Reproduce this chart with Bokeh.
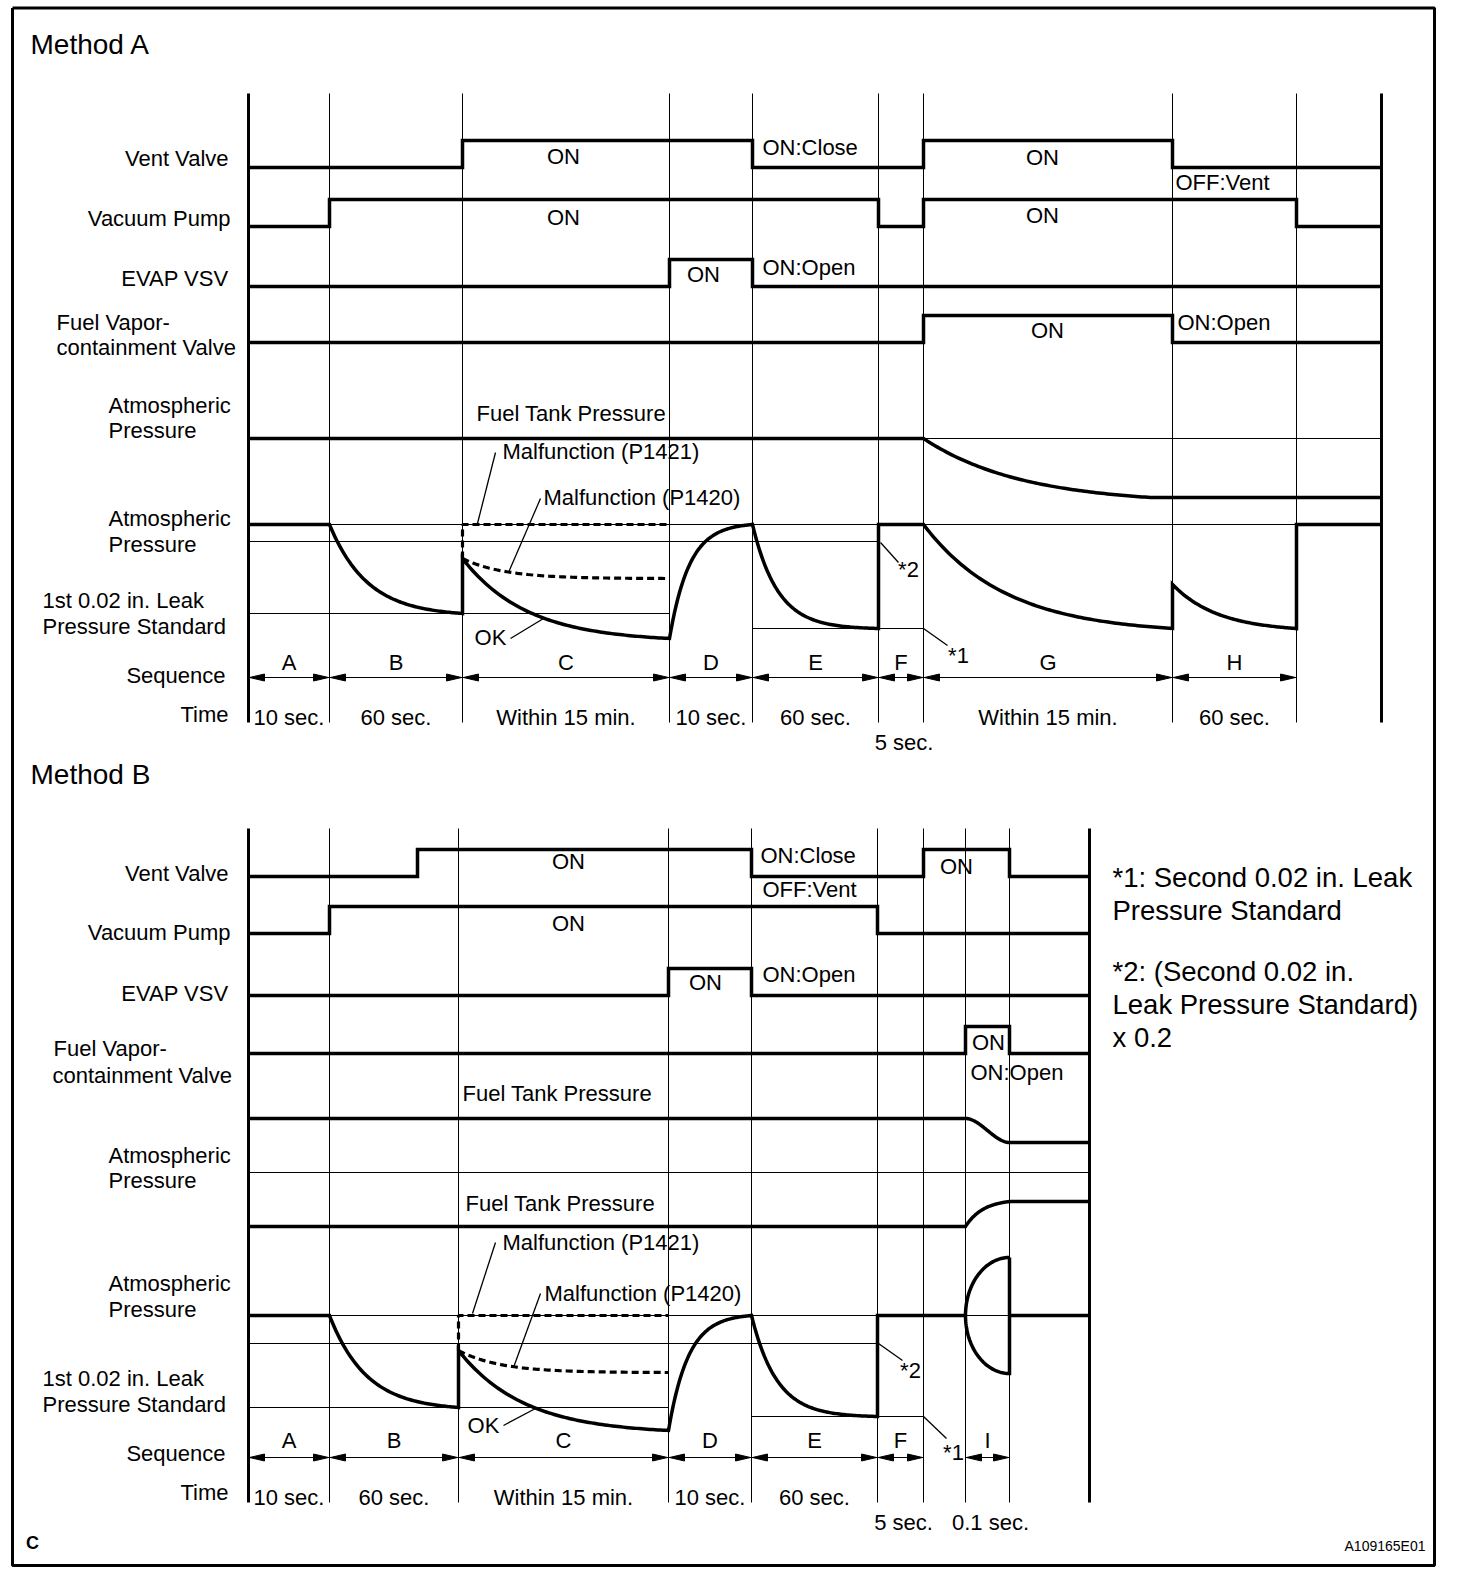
import numpy as np
from bokeh.plotting import figure
from bokeh.models import Range1d
from bokeh.embed import file_html
from bokeh.resources import INLINE
from bokeh.core.properties import value

FONT = "Liberation Sans"

# ======================= DATA =======================
# --- Method A: phase boundaries (diagram time axis) ---
A_EDGES = [248, 329, 462, 669, 752, 878, 923, 1172, 1296]
A_END = 1381
A_SEQ = ["A", "B", "C", "D", "E", "F", "G", "H"]
A_TIME = ["10 sec.", "60 sec.", "Within 15 min.", "10 sec.", "60 sec.", "5 sec.", "Within 15 min.", "60 sec."]
A_TIME_LOW = [0, 0, 0, 0, 0, 1, 0, 0]

# ON/OFF switching instants (all signals start OFF)
A_VENT = [462, 752, 923, 1172]
A_PUMP = [329, 878, 923, 1296]
A_EVAP = [669, 752]
A_FVV = [923, 1172]

# pressure traces: (time, level, curve-shape)
A_PRESS = [(248, 524, 0), (329, 524, 0), (462, 613, 3.5), (462, 558, 0), (669, 638, 3.2),
           (752, 524, 4.2), (878, 628, 5), (878, 524, 0), (923, 524, 0), (1172, 628, 3),
           (1172, 584, 0), (1296, 628, 2.7), (1296, 524, 0), (1381, 524, 0)]
A_P1421 = [(462, 558, 0), (462, 524, 0), (669, 524, 0)]
A_P1420 = [(462, 558, 0), (669, 578, 5)]
A_TANK = [(248, 438, 0), (923, 438, 0), (1150, 497, 2.3), (1381, 497, 0)]

# --- Method B ---
B_EDGES = [248, 329, 458, 668, 751, 877, 923, 965, 1009]
B_END = 1089
B_SEQ = ["A", "B", "C", "D", "E", "F", None, "I"]
B_TIME = ["10 sec.", "60 sec.", "Within 15 min.", "10 sec.", "60 sec.", "5 sec.", None, "0.1 sec."]
B_TIME_LOW = [0, 0, 0, 0, 0, 1, 0, 1]

B_VENT = [417, 751, 923, 1009]
B_PUMP = [329, 877]
B_EVAP = [668, 751]
B_FVV = [965, 1009]

B_PRESS = [(248, 1315, 0), (329, 1315, 0), (458, 1407, 3.5), (458, 1350, 0), (668, 1430, 3.2),
           (751, 1315, 4.2), (877, 1416, 5), (877, 1315, 0), (965, 1315, 0)]
B_PRESS_TAIL = [(1009, 1315, 0), (1089, 1315, 0)]
B_BULGE = (1009, 1315, 44, 58)   # right edge x, centre level, half-width, half-height
B_P1421 = [(458, 1350, 0), (458, 1315, 0), (668, 1315, 0)]
B_P1420 = [(458, 1350, 0), (668, 1372, 5)]
B_TANK1 = [(248, 1118, 0), (965, 1118, 0), (1009, 1142, "s"), (1089, 1142, 0)]
B_TANK2 = [(248, 1226, 0), (965, 1226, 0), (1009, 1201, 2.5), (1089, 1201, 0)]

NOTES = ["*1: Second 0.02 in. Leak", "Pressure Standard", "",
         "*2: (Second 0.02 in.", "Leak Pressure Standard)", "x 0.2"]

# ======================= LAYOUT =======================
A_TOP, A_BOT = 93, 722
B_TOP, B_BOT = 828, 1502
SIG_H = 27
A_ROWS = [167, 226, 286, 342]
B_ROWS = [876, 933, 995, 1053]
A_HLINES = [(438, 248, 1381), (524, 248, 1381), (541, 248, 878), (613, 248, 669), (628, 752, 923)]
B_HLINES = [(1172, 248, 1089), (1315, 248, 1089), (1343, 248, 877), (1407, 248, 668), (1416, 751, 923)]

THICK = 3.5
FS = "22px"

p = figure(width=1456, height=1572, x_range=Range1d(0, 1456), y_range=Range1d(1572, 0),
           output_backend="svg", toolbar_location=None, x_axis_type=None, y_axis_type=None,
           min_border=0, min_border_left=0, min_border_right=0, min_border_top=0, min_border_bottom=0)
p.grid.visible = False
p.outline_line_color = None
p.background_fill_color = "white"
p.border_fill_color = "white"


def steps(x0, x1, toggles, y_low, h):
    xs, ys, lvl = [x0], [y_low], 0
    for t in toggles:
        xs += [t, t]
        ys += [y_low - h * lvl, y_low - h * (1 - lvl)]
        lvl = 1 - lvl
    xs.append(x1)
    ys.append(y_low - h * lvl)
    return xs, ys


def trace(nodes, n=80):
    xs, ys = [nodes[0][0]], [nodes[0][1]]
    for (xa, ya, _), (xb, yb, k) in zip(nodes[:-1], nodes[1:]):
        if k == 0 or xa == xb:
            xs.append(xb)
            ys.append(yb)
            continue
        t = np.linspace(0, 1, n)[1:]
        if k == "s":
            f = t * t * (3 - 2 * t)
        else:
            f = (1 - np.exp(-k * t)) / (1 - np.exp(-k))
        xs += list(xa + (xb - xa) * t)
        ys += list(ya + (yb - ya) * f)
    return xs, ys


def thin(x0, y0, x1, y1, w=1.0):
    p.line([x0, x1], [y0, y1], line_color="black", line_width=w)


def txt(x, y, s, align="left", size=FS, style="normal"):
    p.text(x=[x], y=[y], text=[s], text_font=value(FONT), text_font_size=size,
           text_align=align, text_baseline="middle", text_color="black", text_font_style=style)


def arrows(edges, y, skip=()):
    for i, (a, b) in enumerate(zip(edges[:-1], edges[1:])):
        if i in skip:
            continue
        thin(a, y, b, y, 1.0)
        L, W = 15, 3.5
        p.patch([a + 1, a + 1 + L, a + 1 + L], [y, y - W, y + W], color="black")
        p.patch([b - 1, b - 1 - L, b - 1 - L], [y, y - W, y + W], color="black")


def method(edges, end, top, bot, rows, toggles, hlines, seq, times, low, seq_y, arr_y, time_y, skip=()):
    for x in edges[1:]:
        thin(x, top, x, bot)
    for (y, x0, x1) in hlines:
        thin(x0, y, x1, y)
    p.line([edges[0], edges[0]], [top, bot], line_color="black", line_width=3)
    p.line([end, end], [top, bot], line_color="black", line_width=3)
    for yl, tg in zip(rows, toggles):
        xs, ys = steps(edges[0], end, tg, yl, SIG_H)
        p.line(xs, ys, line_color="black", line_width=THICK, line_join="miter")
    arrows(edges, arr_y, skip)
    for i, (a, b) in enumerate(zip(edges[:-1], edges[1:])):
        if seq[i] is not None:
            txt((a + b) / 2, seq_y, seq[i], "center")
        if times[i] is not None:
            txt((a + b) / 2 + (3 if low[i] else 0), time_y + 25 * low[i], times[i], "center")


def draw_traces(items):
    for nodes, dash in items:
        xs, ys = trace(nodes)
        if dash:
            p.line(xs, ys, line_color="black", line_width=3.2, line_dash=dash)
        else:
            p.line(xs, ys, line_color="black", line_width=THICK, line_join="miter")


# frame
p.line([12, 1434, 1434, 12, 12], [7.5, 7.5, 1565, 1565, 7.5], line_color="black", line_width=3)

# ---------------- Method A ----------------
method(A_EDGES, A_END, A_TOP, A_BOT, A_ROWS, [A_VENT, A_PUMP, A_EVAP, A_FVV],
       A_HLINES, A_SEQ, A_TIME, A_TIME_LOW, 662, 677, 717)
draw_traces([(A_TANK, None), (A_PRESS, None), (A_P1421, "7 4"), (A_P1420, "7 4")])

# ---------------- Method B ----------------
method(B_EDGES, B_END, B_TOP, B_BOT, B_ROWS, [B_VENT, B_PUMP, B_EVAP, B_FVV],
       B_HLINES, B_SEQ, B_TIME, B_TIME_LOW, 1440, 1457, 1497, skip=(6,))
draw_traces([(B_TANK1, None), (B_TANK2, None), (B_PRESS, None), (B_PRESS_TAIL, None),
             (B_P1421, "7 4"), (B_P1420, "7 4")])
bx, by, brx, bry = B_BULGE
th = np.linspace(0, np.pi, 100)
p.line(list(bx - brx * np.sin(th)) + [bx, bx], list(by - bry * np.cos(th)) + [by - bry, by - bry],
       line_color="black", line_width=THICK, line_join="miter")

# ---------------- texts ----------------
txt(30, 44, "Method A", size="28px")
txt(30, 774, "Method B", size="28px")

LEFT_A = [("Vent Valve", 228, 158, "right"), ("Vacuum Pump", 230, 218, "right"),
          ("EVAP VSV", 228, 278, "right"), ("Fuel Vapor-", 56, 322, "left"),
          ("containment  Valve", 56, 347, "left"), ("Atmospheric", 108, 405, "left"),
          ("Pressure", 108, 430, "left"), ("Atmospheric", 108, 518, "left"),
          ("Pressure", 108, 544, "left"), ("1st 0.02 in. Leak", 42, 600, "left"),
          ("Pressure Standard", 42, 626, "left"), ("Sequence", 225, 675, "right"),
          ("Time", 228, 714, "right")]
LEFT_B = [("Vent Valve", 228, 873, "right"), ("Vacuum Pump", 230, 932, "right"),
          ("EVAP VSV", 228, 993, "right"), ("Fuel Vapor-", 53, 1048, "left"),
          ("containment  Valve", 52, 1075, "left"), ("Atmospheric", 108, 1155, "left"),
          ("Pressure", 108, 1180, "left"), ("Atmospheric", 108, 1283, "left"),
          ("Pressure", 108, 1309, "left"), ("1st 0.02 in. Leak", 42, 1378, "left"),
          ("Pressure Standard", 42, 1404, "left"), ("Sequence", 225, 1453, "right"),
          ("Time", 228, 1492, "right")]
for s, x, y, al in LEFT_A + LEFT_B:
    txt(x, y, s, al)

STATE_A = [("ON", 563, 156, "center"), ("ON:Close", 762, 147, "left"), ("ON", 563, 217, "center"),
           ("ON", 703, 274, "center"), ("ON:Open", 762, 267, "left"), ("ON", 1042, 157, "center"),
           ("OFF:Vent", 1175, 182, "left"), ("ON", 1042, 215, "center"), ("ON", 1047, 330, "center"),
           ("ON:Open", 1177, 322, "left"), ("Fuel Tank Pressure", 476, 413, "left"),
           ("Malfunction (P1421)", 502, 451, "left"), ("Malfunction (P1420)", 543, 497, "left"),
           ("OK", 490, 637, "center"), ("*2", 908, 569, "center"), ("*1", 958, 655, "center")]
STATE_B = [("ON", 568, 861, "center"), ("ON:Close", 760, 855, "left"), ("OFF:Vent", 762, 889, "left"),
           ("ON", 568, 923, "center"), ("ON", 705, 982, "center"), ("ON:Open", 762, 974, "left"),
           ("ON", 956, 866, "center"), ("ON", 988, 1042, "center"), ("ON:Open", 970, 1072, "left"),
           ("Fuel Tank Pressure", 462, 1093, "left"), ("Fuel Tank Pressure", 465, 1203, "left"),
           ("Malfunction (P1421)", 502, 1242, "left"), ("Malfunction (P1420)", 544, 1293, "left"),
           ("OK", 483, 1425, "center"), ("*2", 910, 1370, "center"), ("*1", 953, 1452, "center")]
for s, x, y, al in STATE_A + STATE_B:
    txt(x, y, s, al)

LEADERS = [(495, 452, 477, 523), (540, 498, 508, 572), (510, 638, 543, 618), (880, 542, 898, 562),
           (923, 628, 947, 645),
           (495, 1242, 472, 1313), (540, 1293, 513, 1367), (503, 1425, 535, 1408),
           (878, 1343, 902, 1360), (923, 1416, 946, 1438)]
for x0, y0, x1, y1 in LEADERS:
    thin(x0, y0, x1, y1, 1.3)

for i, s in enumerate(NOTES):
    if s:
        txt(1112, 877 + 33 * i - (0 if i < 3 else 5), s, "left", size="27.5px")

txt(32, 1542, "C", "center", size="18px", style="bold")
txt(1425, 1545, "A109165E01", "right", size="14px")

open("out.html", "w").write(file_html(p, INLINE))
